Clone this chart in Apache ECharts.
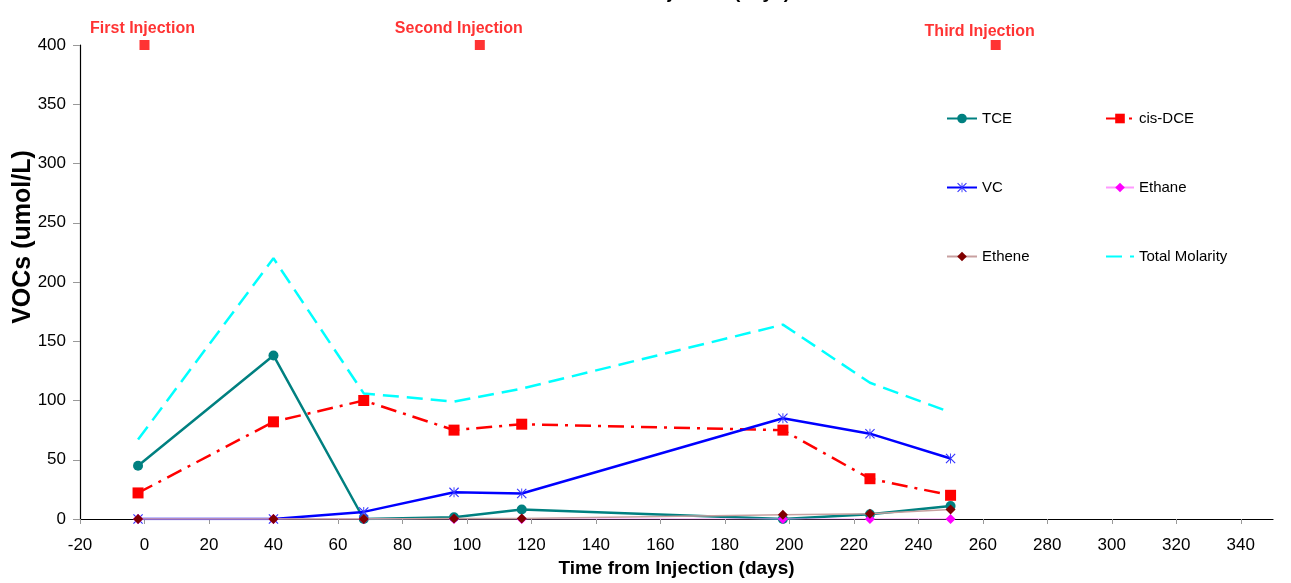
<!DOCTYPE html>
<html>
<head>
<meta charset="utf-8">
<title>VOCs vs Time from Injection</title>
<script src="https://cdn.jsdelivr.net/npm/echarts@6/dist/echarts.min.js"></script>
<style>
  html, body { margin: 0; padding: 0; background: #ffffff; }
  #chart { width: 1291px; height: 583px; }
</style>
</head>
<body>
<div id="chart"></div>
<script>
// Sampling days (time from first injection)
const days = [-2, 40, 68, 96, 117, 198, 225, 250];

// Concentrations in umol/L
const tce      = [45, 138, 0, 1.5, 8, 0, 4, 11];
const cisDce   = [22, 82, 100, 75, 80, 75, 34, 20];
const vc       = [0, 0, 6, 22.5, 21.5, 85, 72, 51];
const ethane   = [0, 0, 0, 0, 0, 0, 0, 0];
const ethene   = [0, 0, 0, 0.5, 0.5, 3.5, 4.5, 8];
const totalMol = [67, 220, 106, 99, 110, 164, 115, 90];

// Injection events
const injectionDays   = [0, 104, 264];
const injectionLevel  = [400, 400, 400];
const injectionLabels = ['First Injection', 'Second Injection', 'Third Injection'];

const FONT = 'Liberation Sans, Arial, sans-serif';

function pairs(xs, ys) {
  return xs.map((x, i) => [x, ys[i]]);
}

// Asterisk marker: an X crossed by a vertical bar
const starPath = 'path://M0,0.8L0.8,0L10,9.2L9.2,10Z M9.2,0L10,0.8L0.8,10L0,9.2Z M4.55,0L5.45,0L5.45,10L4.55,10Z';

// Label nudges for the three injection markers
const injectionLabelShift = [[-2, 2], [-21, 2], [-16, 5]];

const chart = echarts.init(document.getElementById('chart'), null, { renderer: 'canvas' });

const legendText = { fontFamily: FONT, fontSize: 15, color: '#000' };

const option = {
  backgroundColor: '#ffffff',
  animation: false,
  textStyle: { fontFamily: FONT },
  grid: { left: 80, right: 18, top: 45, bottom: 64 },
  xAxis: {
    type: 'value',
    min: -20,
    max: 350,
    interval: 20,
    name: 'Time from Injection (days)',
    nameLocation: 'middle',
    nameGap: 37,
    nameTextStyle: { fontFamily: FONT, fontSize: 19, fontWeight: 'bold', color: '#000' },
    axisLine: { show: true, onZero: false, lineStyle: { color: '#000', width: 1.2 } },
    axisTick: { show: true, inside: false, length: 5, lineStyle: { color: '#999' } },
    axisLabel: { fontFamily: FONT, fontSize: 17, color: '#000', margin: 18, showMaxLabel: false },
    splitLine: { show: false }
  },
  yAxis: {
    type: 'value',
    min: 0,
    max: 400,
    interval: 50,
    axisLine: { show: true, onZero: false, lineStyle: { color: '#000', width: 1.2 } },
    axisTick: { show: true, inside: false, length: 7, lineStyle: { color: '#999' } },
    axisLabel: { fontFamily: FONT, fontSize: 17, color: '#000', margin: 14 },
    splitLine: { show: false }
  },
  legend: [
    {
      data: ['TCE', 'VC', 'Ethene'],
      orient: 'vertical',
      left: 946,
      top: 111,
      padding: 0,
      itemWidth: 30,
      itemHeight: 12,
      itemGap: 54,
      textStyle: legendText
    },
    {
      data: [
        'cis-DCE',
        'Ethane',
        { name: 'Total Molarity', itemStyle: { opacity: 0 } }
      ],
      orient: 'vertical',
      left: 1105,
      top: 111,
      padding: 0,
      itemWidth: 28,
      itemHeight: 12,
      itemGap: 54,
      textStyle: legendText
    }
  ],
  graphic: [
    {
      type: 'text',
      x: 23,
      y: 237,
      rotation: Math.PI / 2,
      style: {
        text: 'VOCs (umol/L)',
        font: 'bold 25px ' + FONT,
        fill: '#000',
        align: 'center',
        verticalAlign: 'middle'
      }
    },
    {
      type: 'text',
      x: 672,
      y: 2,
      style: {
        text: 'Time from Injection (days)',
        font: 'bold 19px ' + FONT,
        fill: '#000',
        align: 'center',
        verticalAlign: 'bottom'
      }
    }
  ],
  series: [
    {
      name: 'TCE',
      type: 'line',
      data: pairs(days, tce),
      symbol: 'circle',
      symbolSize: 10,
      itemStyle: { color: '#008080' },
      lineStyle: { color: '#008080', width: 2.5 },
      z: 3
    },
    {
      name: 'cis-DCE',
      type: 'line',
      data: pairs(days, cisDce),
      symbol: 'rect',
      symbolSize: 11,
      itemStyle: { color: '#ff0000' },
      lineStyle: { color: '#ff0000', width: 2.5, type: [16, 7, 3, 7] },
      z: 3
    },
    {
      name: 'VC',
      type: 'line',
      data: pairs(days, vc),
      symbol: starPath,
      symbolSize: 10,
      itemStyle: { color: '#3333ff' },
      lineStyle: { color: '#0000ff', width: 2.5 },
      z: 3
    },
    {
      name: 'Ethane',
      type: 'line',
      data: pairs(days, ethane),
      symbol: 'diamond',
      symbolSize: 10,
      itemStyle: { color: '#ff00ff' },
      lineStyle: { color: '#ff99ff', width: 1.2 },
      z: 4
    },
    {
      name: 'Ethene',
      type: 'line',
      data: pairs(days, ethene),
      symbol: 'diamond',
      symbolSize: 10,
      itemStyle: { color: '#800000' },
      lineStyle: { color: '#c8a0a0', width: 1.5 },
      z: 4
    },
    {
      name: 'Total Molarity',
      type: 'line',
      data: pairs(days, totalMol),
      symbol: 'none',
      itemStyle: { color: '#00ffff' },
      lineStyle: { color: '#00ffff', width: 2.5, type: [16, 8] },
      z: 2
    },
    {
      name: 'Injection',
      type: 'scatter',
      data: injectionDays.map((d, i) => ({
        value: [d, injectionLevel[i]],
        label: { formatter: injectionLabels[i], offset: injectionLabelShift[i] }
      })),
      symbol: 'rect',
      symbolSize: 10,
      itemStyle: { color: '#ff0000' },
      clip: false,
      label: {
        show: true,
        position: 'top',
        distance: 5,
        fontFamily: FONT,
        fontSize: 16,
        fontWeight: 'bold',
        color: '#ff0000'
      },
      z: 5
    }
  ]
};

chart.setOption(option);
</script>
</body>
</html>
